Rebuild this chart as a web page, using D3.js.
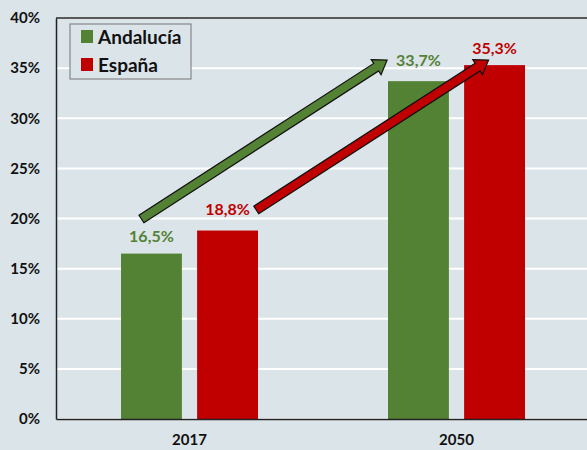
<!DOCTYPE html>
<html>
<head>
<meta charset="utf-8">
<script src="https://cdn.jsdelivr.net/npm/d3@7"></script>
<style>
  body { margin: 0; background: #dbe4e9; }
  svg { display: block; font-family: Lato, "Open Sans", sans-serif; font-weight: bold; }
</style>
</head>
<body>
<div id="chart"></div>
<script>
// data
var years = ['2017', '2050'];
var seriesNames = ['Andalucía', 'España'];
var andalucia = [16.5, 33.7];
var espana = [18.8, 35.3];
var yTicks = [0, 5, 10, 15, 20, 25, 30, 35, 40];
var colors = ['#548235', '#c00000'];

// arrows (in data terms: category, fraction of band, value)
var arrows = [
    {series: 0, from: ['2017', 0.32, 19.95], to: ['2050', 0.24, 35.8]},
    {series: 1, from: ['2017', 0.75, 20.85], to: ['2050', 0.62, 35.8]}
];

var svgWidth = 587;
var svgHeight = 450;
var margin = {top: 18, right: -3, bottom: 31, left: 56};
var width = svgWidth - margin.left - margin.right;
var height = svgHeight - margin.top - margin.bottom;

var svg = d3.select('#chart')
    .append('svg')
    .attr('width', svgWidth)
    .attr('height', svgHeight);

svg.append('rect')
    .attr('width', svgWidth)
    .attr('height', svgHeight)
    .attr('fill', '#dbe4e9');

var g = svg.append('g')
    .attr('transform', `translate(${margin.left}, ${margin.top})`);

var x = d3.scaleBand().domain(years).range([0, width]);
var x1 = d3.scaleBand().domain(seriesNames).range([65, 202]).paddingInner(0.2);
var y = d3.scaleLinear().domain([0, 40]).range([height, 0]);

// gridlines
g.append('g')
    .selectAll('line')
    .data(yTicks)
    .enter()
    .append('line')
    .attr('x1', 0)
    .attr('x2', width)
    .attr('y1', d => y(d))
    .attr('y2', d => y(d))
    .attr('stroke', '#ffffff')
    .attr('stroke-width', 2);

// top border
g.append('line')
    .attr('x1', 0).attr('x2', width)
    .attr('y1', 0).attr('y2', 0)
    .attr('stroke', '#222').attr('stroke-width', 1.5);

// y axis
var leftAxis = d3.axisLeft(y)
    .tickValues(yTicks)
    .tickFormat(d => d + '%')
    .tickSize(0)
    .tickPadding(16);
var yAxis = g.append('g').call(leftAxis);
yAxis.select('.domain').attr('stroke', '#222').attr('stroke-width', 1.5);
yAxis.selectAll('text')
    .attr('font-size', 15)
    .attr('font-family', 'Lato, sans-serif')
    .attr('font-weight', 'bold')
    .attr('fill', '#111');

// bars
var values = [andalucia, espana];
var groups = g.selectAll('.year')
    .data(years)
    .enter()
    .append('g')
    .attr('transform', d => `translate(${x(d)}, 0)`);

groups.selectAll('rect')
    .data((d, i) => seriesNames.map((s, j) => ({s: s, j: j, v: values[j][i]})))
    .enter()
    .append('rect')
    .attr('x', d => x1(d.s))
    .attr('width', x1.bandwidth())
    .attr('y', d => y(d.v))
    .attr('height', d => height - y(d.v))
    .attr('fill', d => colors[d.j]);

// x axis
var bottomAxis = d3.axisBottom(x).tickSize(0).tickPadding(15);
var xAxis = g.append('g')
    .attr('transform', `translate(0, ${height})`)
    .call(bottomAxis);
xAxis.select('.domain').attr('stroke', '#222').attr('stroke-width', 1.5);
xAxis.selectAll('text')
    .attr('font-size', 15)
    .attr('font-family', 'Lato, sans-serif')
    .attr('font-weight', 'bold')
    .attr('fill', '#111')
    .attr('transform', d => `translate(${x1(seriesNames[0]) + (x1(seriesNames[1]) + x1.bandwidth() - x1(seriesNames[0])) / 2 - x.bandwidth() / 2}, 0)`);

// arrows
function arrowPath(p0, p1) {
    var dx = p1[0] - p0[0], dy = p1[1] - p0[1];
    var len = Math.sqrt(dx * dx + dy * dy);
    var ux = dx / len, uy = dy / len;
    var nx = -uy, ny = ux;
    var shaft = 4.5, head = 9, headLen = 13;
    var bx = p1[0] - ux * headLen, by = p1[1] - uy * headLen;
    var pts = [
        [p0[0] + nx * shaft, p0[1] + ny * shaft],
        [bx + nx * shaft, by + ny * shaft],
        [bx + nx * head, by + ny * head],
        [p1[0], p1[1]],
        [bx - nx * head, by - ny * head],
        [bx - nx * shaft, by - ny * shaft],
        [p0[0] - nx * shaft, p0[1] - ny * shaft]
    ];
    return 'M' + pts.map(p => p.join(',')).join('L') + 'Z';
}

g.selectAll('.arrow')
    .data(arrows)
    .enter()
    .append('path')
    .attr('d', d => arrowPath(
        [x(d.from[0]) + d.from[1] * x.bandwidth(), y(d.from[2])],
        [x(d.to[0]) + d.to[1] * x.bandwidth(), y(d.to[2])]))
    .attr('fill', d => colors[d.series])
    .attr('stroke', '#111')
    .attr('stroke-width', 1.2)
    .attr('stroke-linejoin', 'miter');

// value labels
var labelOffsets = [[17, 21], [21, 17]];
groups.selectAll('.lbl')
    .data((d, i) => seriesNames.map((s, j) => ({s: s, j: j, i: i, v: values[j][i]})))
    .enter()
    .append('text')
    .attr('x', d => x1(d.s) + x1.bandwidth() / 2)
    .attr('y', d => y(d.v) - labelOffsets[d.i][d.j])
    .attr('dy', '0.35em')
    .attr('text-anchor', 'middle')
    .attr('font-size', 16)
    .attr('fill', d => colors[d.j])
    .text(d => d.v.toFixed(1).replace('.', ',') + '%');

// legend
var legend = svg.append('g').attr('transform', 'translate(70, 24)');
legend.append('rect')
    .attr('width', 121)
    .attr('height', 55)
    .attr('fill', '#dbe4e9')
    .attr('stroke', '#888')
    .attr('stroke-width', 1.2);
var items = legend.selectAll('.item')
    .data(seriesNames)
    .enter()
    .append('g')
    .attr('transform', (d, i) => `translate(11, ${6 + i * 28})`);
items.append('rect')
    .attr('width', 12)
    .attr('height', 13)
    .attr('fill', (d, i) => colors[i]);
items.append('text')
    .attr('x', 17)
    .attr('y', 7)
    .attr('dy', '0.35em')
    .attr('font-size', 19)
    .attr('fill', '#111')
    .text(d => d);
</script>
</body>
</html>
